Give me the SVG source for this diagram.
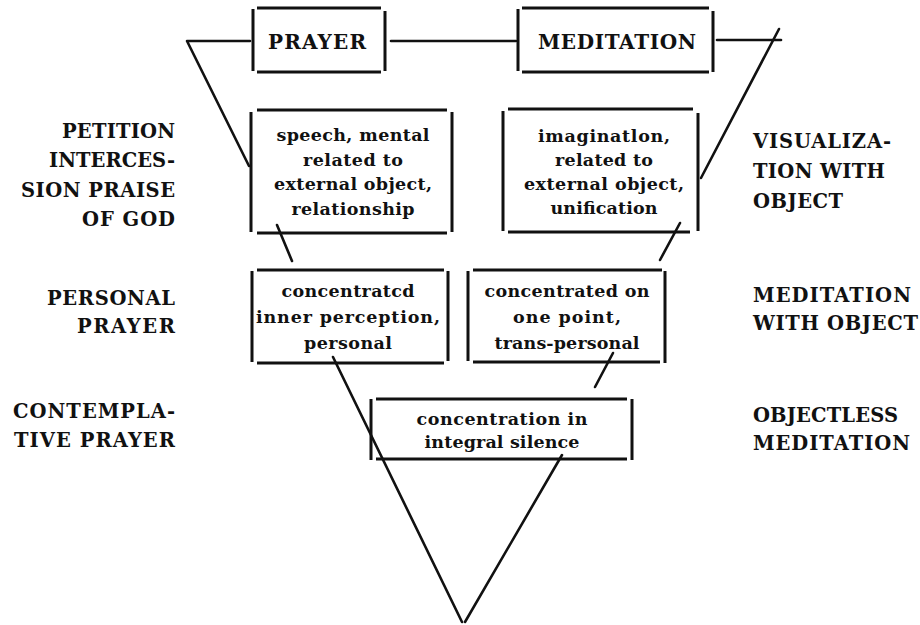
<svg xmlns="http://www.w3.org/2000/svg" width="920" height="625" viewBox="0 0 920 625">
<style>
.bx{stroke:#111;stroke-width:3;fill:none;stroke-linecap:butt}
.cn{stroke:#111;stroke-width:2.6;fill:none;stroke-linecap:round;stroke-linejoin:round}
.cap{font-family:"DejaVu Serif","Liberation Serif",serif;font-weight:bold;font-size:19.5px;fill:#111}
.top{font-family:"DejaVu Serif","Liberation Serif",serif;font-weight:bold;font-size:20px;fill:#111;text-anchor:middle}
.bt{font-family:"DejaVu Serif","Liberation Serif",serif;font-weight:bold;font-size:17.5px;fill:#111;text-anchor:middle}
.l{text-anchor:end}
</style>
<rect width="920" height="625" fill="#fff"/>
<g id="connectors">
<polyline class="cn" points="250,41 187,41 249,166"/>
<line class="cn" x1="391" y1="41" x2="516" y2="41"/>
<line class="cn" x1="717" y1="40" x2="781" y2="40"/>
<line class="cn" x1="779" y1="29" x2="701" y2="178"/>
<line class="cn" x1="277" y1="225" x2="292" y2="261"/>
<line class="cn" x1="680" y1="223" x2="660" y2="260"/>
<line class="cn" x1="333" y1="357" x2="462" y2="622"/>
<line class="cn" x1="465" y1="622" x2="562" y2="455"/>
<line class="cn" x1="613" y1="353" x2="595" y2="387"/>
</g>
<g id="prayer">
<path class="bx" d="M257,8H381M257,72H381M253,9V71M385,11V71"/>
<text class="top" x="317" y="49" textLength="98" lengthAdjust="spacing">PRAYER</text>
</g>
<g id="meditation">
<path class="bx" d="M522,8H709M522,72H709M518,9V71M713,11V72"/>
<text class="top" x="617" y="49" textLength="158" lengthAdjust="spacing">MEDITATION</text>
</g>
<g id="speech">
<path class="bx" d="M257,110H447M257,233H447M251,112V232M452,112V232"/>
<text class="bt" x="353" y="141" textLength="153" lengthAdjust="spacing">speech, mental</text>
<text class="bt" x="353" y="166" textLength="100" lengthAdjust="spacing">related to</text>
<text class="bt" x="353" y="190" textLength="158" lengthAdjust="spacing">external object,</text>
<text class="bt" x="353" y="215" textLength="123" lengthAdjust="spacing">relationship</text>
</g>
<g id="imagination">
<path class="bx" d="M508,109H693M508,232H690M503,111V231M698,113V231"/>
<text class="bt" x="604" y="142" textLength="132" lengthAdjust="spacing">imaginatlon,</text>
<text class="bt" x="604" y="166" textLength="98" lengthAdjust="spacing">related to</text>
<text class="bt" x="604" y="190" textLength="160" lengthAdjust="spacing">external object,</text>
<text class="bt" x="604" y="214" textLength="107" lengthAdjust="spacing">unification</text>
</g>
<g id="personal">
<path class="bx" d="M257,270H444M257,363H444M252,271V362M448,271V361"/>
<text class="bt" x="348" y="297" textLength="133" lengthAdjust="spacing">concentratcd</text>
<text class="bt" x="348" y="323" textLength="184" lengthAdjust="spacing">inner perception,</text>
<text class="bt" x="348" y="349" textLength="88" lengthAdjust="spacing">personal</text>
</g>
<g id="transpersonal">
<path class="bx" d="M473,270H662M473,362H660M468,271V361M665,271V363"/>
<text class="bt" x="567" y="297" textLength="165" lengthAdjust="spacing">concentrated on</text>
<text class="bt" x="567" y="323" textLength="108" lengthAdjust="spacing">one point,</text>
<text class="bt" x="567" y="349" textLength="145" lengthAdjust="spacing">trans-personal</text>
</g>
<g id="silence">
<path class="bx" d="M376,399H627M376,459H627M371,399V460M632,399V460"/>
<text class="bt" x="502" y="425" textLength="171" lengthAdjust="spacing">concentration in</text>
<text class="bt" x="502" y="448" textLength="155" lengthAdjust="spacing">integral silence</text>
</g>
<g id="left-labels">
<text class="cap l" x="175" y="138" textLength="113" lengthAdjust="spacing">PETITION</text>
<text class="cap l" x="175" y="167" textLength="126" lengthAdjust="spacing">INTERCES-</text>
<text class="cap l" x="175" y="197" textLength="154" lengthAdjust="spacing">SION PRAISE</text>
<text class="cap l" x="175" y="226" textLength="93" lengthAdjust="spacing">OF GOD</text>
<text class="cap l" x="175" y="305" textLength="128" lengthAdjust="spacing">PERSONAL</text>
<text class="cap l" x="175" y="333" textLength="98" lengthAdjust="spacing">PRAYER</text>
<text class="cap l" x="175" y="418" textLength="162" lengthAdjust="spacing">CONTEMPLA-</text>
<text class="cap l" x="175" y="447" textLength="161" lengthAdjust="spacing">TIVE PRAYER</text>
</g>
<g id="right-labels">
<text class="cap" x="753" y="148" textLength="138" lengthAdjust="spacing">VISUALIZA-</text>
<text class="cap" x="753" y="178" textLength="132" lengthAdjust="spacing">TION WITH</text>
<text class="cap" x="753" y="208" textLength="90" lengthAdjust="spacing">OBJECT</text>
<text class="cap" x="753" y="302" textLength="158" lengthAdjust="spacing">MEDITATION</text>
<text class="cap" x="753" y="330" textLength="165" lengthAdjust="spacing">WITH OBJECT</text>
<text class="cap" x="753" y="422" textLength="145" lengthAdjust="spacing">OBJECTLESS</text>
<text class="cap" x="753" y="450" textLength="157" lengthAdjust="spacing">MEDITATION</text>
</g>
</svg>
